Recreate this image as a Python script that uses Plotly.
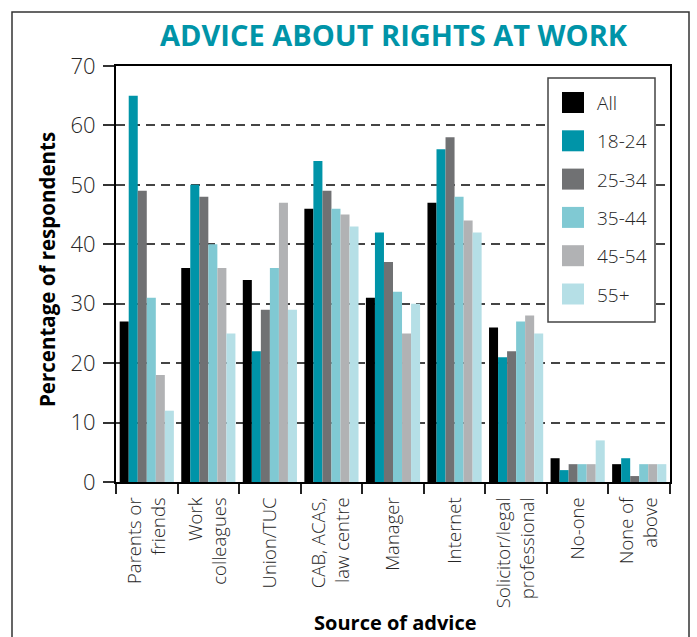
import plotly.graph_objects as go

# Sources of advice (x categories)
sources = [
    "Parents or<br>friends",
    "Work<br>colleagues",
    "Union/TUC",
    "CAB, ACAS,<br>law centre",
    "Manager",
    "Internet",
    "Solicitor/legal<br>professional",
    "No-one",
    "None of<br>above",
]

# Age groups (series)
groups = ["All", "18-24", "25-34", "35-44", "45-54", "55+"]
group_colors = ["#000000", "#0094a8", "#707173", "#80c9d3", "#b1b2b4", "#b5dfe6"]

# Percentage of respondents per source, one list per age group
pct_all = [27, 36, 34, 46, 31, 47, 26, 4, 3]
pct_18_24 = [65, 50, 22, 54, 42, 56, 21, 2, 4]
pct_25_34 = [49, 48, 29, 49, 37, 58, 22, 3, 1]
pct_35_44 = [31, 40, 36, 46, 32, 48, 27, 3, 3]
pct_45_54 = [18, 36, 47, 45, 25, 44, 28, 3, 3]
pct_55_plus = [12, 25, 29, 43, 30, 42, 25, 7, 3]

series = [pct_all, pct_18_24, pct_25_34, pct_35_44, pct_45_54, pct_55_plus]

y_ticks = [0, 10, 20, 30, 40, 50, 60, 70]

LIGHT = "Open Sans"
TEXT_COL = "#262626"

fig = go.Figure()
for name, vals, col in zip(groups, series, group_colors):
    fig.add_trace(go.Bar(
        x=sources, y=vals, name=name,
        marker=dict(color=col, line=dict(width=0)),
        showlegend=False,
    ))

# Plot area geometry in pixels (for placing the framed legend and labels)
W, H = 697, 637
ML, MR, MT, MB = 116, 27, 66, 155
PW, PH = W - ML - MR, H - MT - MB


def px_x(x):
    return (x - ML) / PW


def px_y(y):
    return (H - MB - y) / PH


shapes = []
annotations = []

# Outer frame around the whole graphic
shapes.append(dict(
    type="rect", xref="paper", yref="paper",
    x0=px_x(12), x1=px_x(689), y0=px_y(660), y1=px_y(12),
    line=dict(color="#333333", width=1.5), fillcolor="rgba(0,0,0,0)", layer="above",
))

# Legend box with square swatches
lg_x0, lg_x1, lg_y0, lg_y1 = 548, 655, 78, 322
shapes.append(dict(
    type="rect", xref="paper", yref="paper",
    x0=px_x(lg_x0), x1=px_x(lg_x1), y0=px_y(lg_y1), y1=px_y(lg_y0),
    line=dict(color="#444444", width=1.5), fillcolor="white", layer="above",
))
for i, (name, col) in enumerate(zip(groups, group_colors)):
    top = 92 + i * 38.3
    shapes.append(dict(
        type="rect", xref="paper", yref="paper",
        x0=px_x(562), x1=px_x(584), y0=px_y(top + 21), y1=px_y(top),
        line=dict(width=0), fillcolor=col, layer="above",
    ))
    annotations.append(dict(
        text=name, xref="paper", yref="paper",
        x=px_x(595), y=px_y(top + 11), xanchor="left", yanchor="middle",
        showarrow=False, font=dict(family=LIGHT, size=19, color=TEXT_COL, weight=300),
    ))

# Title and axis titles
annotations.append(dict(
    text="ADVICE ABOUT RIGHTS AT WORK", xref="paper", yref="paper",
    x=px_x(394), y=px_y(35), xanchor="center", yanchor="middle", showarrow=False,
    font=dict(family="Open Sans", size=29, color="#0094a8", weight=700),
))
annotations.append(dict(
    text="Source of advice", xref="paper", yref="paper",
    x=px_x(395), y=px_y(622), xanchor="center", yanchor="middle", showarrow=False,
    font=dict(family="Open Sans", size=20, color="#000000", weight=700),
))
annotations.append(dict(
    text="Percentage of respondents", xref="paper", yref="paper", textangle=-90,
    x=px_x(47), y=px_y(270), xanchor="center", yanchor="middle", showarrow=False,
    font=dict(family="Open Sans", size=20.5, color="#000000", weight=700),
))

fig.update_layout(
    width=W, height=H,
    margin=dict(l=ML, r=MR, t=MT, b=MB),
    paper_bgcolor="white", plot_bgcolor="white",
    barmode="group", bargap=0.12, bargroupgap=0,
    shapes=shapes, annotations=annotations,
    font=dict(family=LIGHT, color=TEXT_COL),
)

fig.update_xaxes(
    type="category",
    tickangle=-90,
    tickfont=dict(family=LIGHT, size=18.5, color=TEXT_COL, weight=300),
    ticks="outside", tickson="boundaries", ticklen=10, tickwidth=1.5, tickcolor="#222222",
    ticklabelstandoff=6,
    showline=True, linecolor="#000000", linewidth=2, mirror=True,
    showgrid=False,
)
fig.update_yaxes(
    range=[0, 70], tickvals=y_ticks,
    tickfont=dict(family=LIGHT, size=22, color=TEXT_COL, weight=300),
    ticks="outside", ticklen=11, tickwidth=1.5, tickcolor="#333333",
    ticklabelstandoff=3,
    showline=True, linecolor="#000000", linewidth=2, mirror=True,
    showgrid=True, gridcolor="#444444", gridwidth=1.5, griddash="9px,6px",
    zeroline=False,
)

fig.write_html("out.html")
